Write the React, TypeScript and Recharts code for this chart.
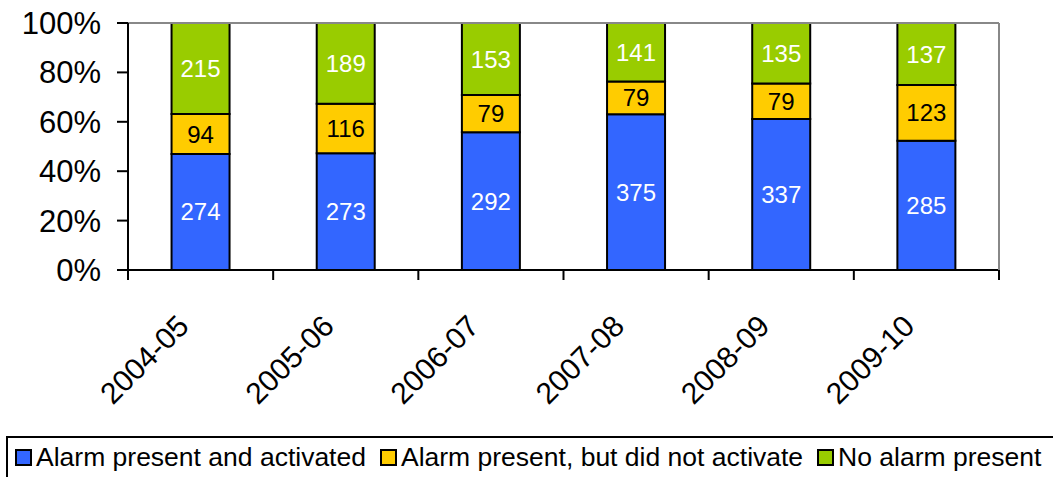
import React from "react";
import {
  BarChart,
  Bar,
  XAxis,
  YAxis,
  Legend,
  LabelList,
  ReferenceLine,
} from "recharts";

const years = ["2004-05", "2005-06", "2006-07", "2007-08", "2008-09", "2009-10"];
const activated = [274, 273, 292, 375, 337, 285];
const notActivated = [94, 116, 79, 79, 79, 123];
const noAlarm = [215, 189, 153, 141, 135, 137];
const yTicks = [0, 0.2, 0.4, 0.6, 0.8, 1];

const seriesNames = {
  activated: "Alarm present and activated",
  notActivated: "Alarm present, but did not activate",
  noAlarm: "No alarm present",
};

const COLORS = {
  activated: "#3366ff",
  notActivated: "#ffcc00",
  noAlarm: "#99cc00",
};

const data = years.map((year, i) => ({
  year,
  activated: activated[i],
  notActivated: notActivated[i],
  noAlarm: noAlarm[i],
}));

const W = 1053;
const H = 477;
const LEFT = 128;
const RIGHT = 54;
const BAND = (W - LEFT - RIGHT) / years.length;
const FONT = "'Liberation Sans', Arial, Helvetica, sans-serif";

// category labels rotated, plus tick marks drawn at the band edges
const YearTick = (props: any) => {
  const { x, y, payload, index } = props;
  const half = BAND / 2;
  const tx = x - 10;
  const ty = y + 58;
  return (
    <g>
      <line x1={x - half} y1={y} x2={x - half} y2={y + 10} stroke="#000" strokeWidth={2} />
      {index === years.length - 1 && (
        <line x1={x + half} y1={y} x2={x + half} y2={y + 10} stroke="#000" strokeWidth={2} />
      )}
      <text
        x={tx}
        y={ty}
        textAnchor="end"
        fontSize={30}
        fill="#000"
        fontFamily={FONT}
        transform={`rotate(-45, ${tx}, ${ty})`}
      >
        {payload.value}
      </text>
    </g>
  );
};

const renderLegend = () => (
  <div
    style={{
      border: "2px solid #000",
      height: 46,
      boxSizing: "border-box",
      display: "flex",
      alignItems: "center",
      paddingLeft: 7,
      paddingBottom: 4,
      fontFamily: FONT,
      fontSize: 26.5,
      whiteSpace: "nowrap",
      color: "#000",
    }}
  >
    {(Object.keys(seriesNames) as (keyof typeof seriesNames)[]).map((k) => (
      <span key={k} style={{ display: "inline-flex", alignItems: "center", marginRight: 14, flexShrink: 0 }}>
        <span
          style={{
            width: 17,
            height: 17,
            flexShrink: 0,
            boxSizing: "border-box",
            border: "2px solid #000",
            background: COLORS[k],
            marginRight: 4,
            display: "inline-block",
          }}
        />
        {seriesNames[k]}
      </span>
    ))}
  </div>
);

export default function App() {
  return (
    <div style={{ position: "absolute", left: 0, top: 0, fontFamily: FONT }}>
      <BarChart
        width={W}
        height={H}
        data={data}
        stackOffset="expand"
        barCategoryGap="30%"
        margin={{ top: 23, right: 0, left: 0, bottom: 0 }}
      >
        <XAxis
          dataKey="year"
          interval={0}
          tickLine={false}
          tickSize={0}
          tickMargin={0}
          height={161}
          axisLine={{ stroke: "#000", strokeWidth: 2 }}
          tick={<YearTick />}
        />
        <YAxis
          domain={[0, 1]}
          ticks={yTicks}
          width={LEFT}
          tickSize={11}
          tickMargin={16}
          interval={0}
          tickFormatter={(v: number) => `${Math.round(v * 100)}%`}
          tick={{ fill: "#000", fontSize: 31, fontFamily: FONT }}
          tickLine={{ stroke: "#000", strokeWidth: 2 }}
          axisLine={{ stroke: "#000", strokeWidth: 2 }}
        />
        <YAxis
          yAxisId="frame"
          orientation="right"
          width={RIGHT}
          tick={false}
          tickLine={false}
          axisLine={{ stroke: "#888", strokeWidth: 2 }}
        />
        <ReferenceLine y={1} stroke="#888" strokeWidth={2} />
        <Legend verticalAlign="bottom" content={renderLegend} wrapperStyle={{ left: 6, bottom: -5, width: 1080 }} />
        <Bar dataKey="activated" stackId="a" fill={COLORS.activated} stroke="#000" strokeWidth={2} isAnimationActive={false}>
          <LabelList dataKey="activated" position="center" fill="#fff" fontSize={24} fontFamily={FONT} />
        </Bar>
        <Bar dataKey="notActivated" stackId="a" fill={COLORS.notActivated} stroke="#000" strokeWidth={2} isAnimationActive={false}>
          <LabelList dataKey="notActivated" position="center" fill="#000" fontSize={24} fontFamily={FONT} />
        </Bar>
        <Bar dataKey="noAlarm" stackId="a" fill={COLORS.noAlarm} stroke="#000" strokeWidth={2} isAnimationActive={false}>
          <LabelList dataKey="noAlarm" position="center" fill="#fff" fontSize={24} fontFamily={FONT} />
        </Bar>
      </BarChart>
    </div>
  );
}
